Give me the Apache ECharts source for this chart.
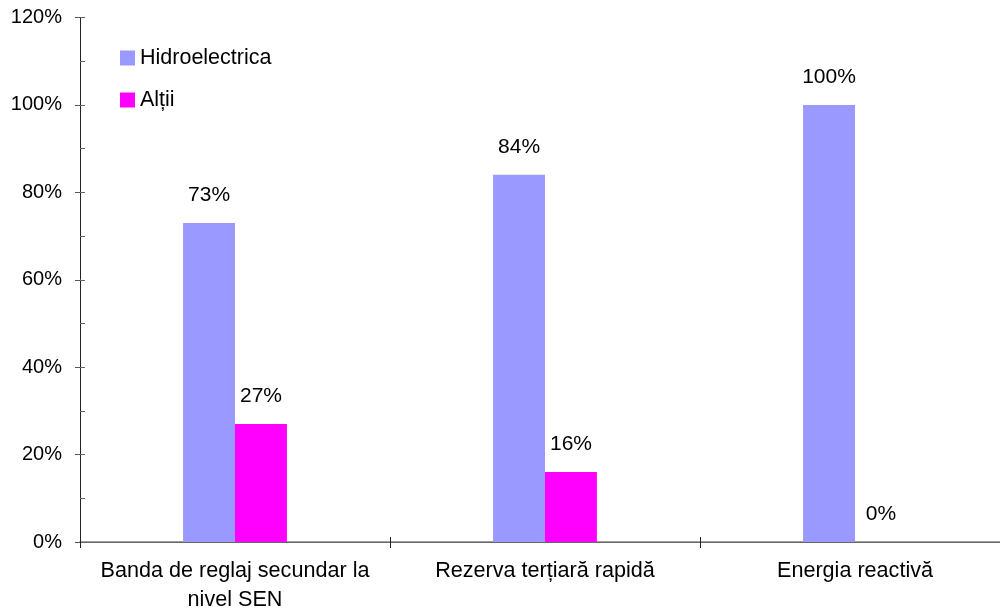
<!DOCTYPE html>
<html>
<head>
<meta charset="utf-8">
<script src="https://cdn.jsdelivr.net/npm/echarts@6/dist/echarts.min.js"></script>
<style>
	html, body { margin: 0; padding: 0; background: #fff; }
	#chart { width: 1000px; height: 614px; }
</style>
</head>
<body>
<div id="chart"></div>
<script>
	// date
	var categories = ['Banda de reglaj secundar la\nnivel SEN', 'Rezerva terțiară rapidă', 'Energia reactivă'];
	var hidroValues = [73, 84, 100];
	var altiiValues = [27, 16, 0];
	var yTicks = [0, 20, 40, 60, 80, 100, 120];

	var font = 'Liberation Sans, Arial, sans-serif';
	var axisColor = '#222';

	var valueLabel = {
		show: true,
		position: 'top',
		distance: 17,
		fontFamily: font,
		fontSize: 21,
		color: '#000',
		formatter: '{c}%'
	};

	var chart = echarts.init(document.getElementById('chart'));
	chart.setOption({
		animation: false,
		textStyle: { fontFamily: font, color: '#000' },
		grid: {
			left: 80,
			top: 17.5,
			width: 930,
			bottom: 72,
			outerBoundsMode: 'none'
		},
		legend: {
			orient: 'vertical',
			left: 120,
			top: 47,
			padding: 0,
			itemWidth: 15,
			itemHeight: 15,
			itemGap: 20,
			icon: 'rect',
			textStyle: { fontFamily: font, fontSize: 21.5, lineHeight: 21, color: '#000' },
			data: ['Hidroelectrica', 'Alții']
		},
		xAxis: [{
			type: 'category',
			data: categories,
			axisLine: { lineStyle: { color: axisColor, width: 1 } },
			axisTick: { show: true, length: 6, lineStyle: { color: axisColor } },
			axisLabel: {
				margin: 15,
				fontFamily: font,
				fontSize: 21.6,
				lineHeight: 29,
				color: '#000',
				interval: 0
			}
		}, {
			// linia de sus (120%)
			type: 'category',
			position: 'top',
			data: categories,
			axisLine: { show: true, lineStyle: { color: '#808080', width: 1.5 } },
			axisTick: { show: false },
			axisLabel: { show: false }
		}, {
			// tick-uri spre interior pe axa x
			type: 'category',
			position: 'bottom',
			data: categories,
			axisLine: { show: false },
			axisTick: { show: true, inside: true, length: 5, lineStyle: { color: axisColor } },
			axisLabel: { show: false }
		}],
		yAxis: [{
			type: 'value',
			min: yTicks[0],
			max: yTicks[yTicks.length - 1],
			interval: 20,
			axisLine: { show: true, lineStyle: { color: axisColor, width: 1 } },
			axisTick: { show: true, length: 5, lineStyle: { color: '#555' } },
			splitLine: { show: false },
			axisLabel: {
				margin: 18,
				fontFamily: font,
				fontSize: 20,
				color: '#000',
				formatter: '{value}%'
			}
		}, {
			// tick-uri spre interior, la fiecare 10%
			type: 'value',
			position: 'left',
			min: yTicks[0],
			max: yTicks[yTicks.length - 1],
			interval: 10,
			axisLine: { show: false },
			axisTick: { show: true, inside: true, length: 5, lineStyle: { color: '#666' } },
			splitLine: { show: false },
			axisLabel: { show: false }
		}],
		series: [{
			name: 'Hidroelectrica',
			type: 'bar',
			data: hidroValues,
			barGap: '0%',
			barCategoryGap: '66.5%',
			itemStyle: { color: '#9999FF' },
			label: valueLabel
		}, {
			name: 'Alții',
			type: 'bar',
			data: altiiValues,
			barGap: '0%',
			barCategoryGap: '66.5%',
			itemStyle: { color: '#FF00FF' },
			label: valueLabel
		}]
	});
</script>
</body>
</html>
